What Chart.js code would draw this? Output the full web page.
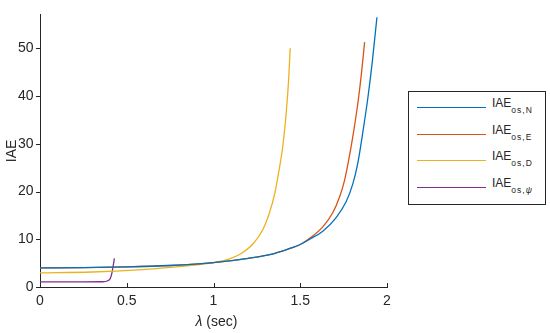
<!DOCTYPE html>
<html>
<head>
<meta charset="utf-8">
<script src="https://cdn.jsdelivr.net/npm/chart.js@4.4.1/dist/chart.umd.min.js"></script>
<style>
  html, body { margin: 0; padding: 0; background: #ffffff; }
  #wrap { position: relative; width: 550px; height: 333px; overflow: hidden; font-family: "Liberation Sans", Arial, sans-serif; color: #262626; }
  #c { position: absolute; left: 0; top: 0; }
  #xtitle { position: absolute; left: 0; width: 433px; top: 312px; text-align: center; font-size: 14px; line-height: 18px; }
  #legend { position: absolute; left: 408px; top: 91px; width: 136px; height: 112px; border: 1px solid #262626; background: #fff; }
  .item { position: absolute; left: 0; height: 20px; width: 136px; }
  .item .ln { position: absolute; left: 8px; width: 69px; top: 9px; height: 0; border-top: 1.3px solid #000; }
  .item .tx { position: absolute; left: 83px; top: -1px; font-size: 12px; line-height: 13px; white-space: nowrap; }
  .item .tx sub { font-size: 8.5px; letter-spacing: 1px; vertical-align: -6px; line-height: 0; }
</style>
</head>
<body>
<div id="wrap">
  <canvas id="c" width="550" height="333"></canvas>
  <div id="xtitle"><i>λ</i> (sec)</div>
  <div id="legend"></div>
</div>
<script>
// ---- data ----
const seriesNames = ["os,N", "os,E", "os,D", "os,ψ"];
const seriesColors = ["#0072BD", "#D95319", "#EDB120", "#7E2F8E"];

const lambdaN = [0, 0.25, 0.5, 0.75, 1.0, 1.2, 1.35, 1.45, 1.5, 1.554, 1.63, 1.708, 1.765, 1.803, 1.832, 1.861, 1.89, 1.915, 1.942];
const iaeN    = [4.0, 4.05, 4.2, 4.5, 5.1, 6.0, 7.0, 8.2, 8.9, 10.0, 11.7, 14.6, 17.9, 21.6, 26.0, 32.5, 39.7, 47.1, 56.5];

const lambdaE = [0, 0.25, 0.5, 0.75, 1.0, 1.2, 1.35, 1.45, 1.5, 1.554, 1.63, 1.688, 1.727, 1.755, 1.775, 1.803, 1.832, 1.852, 1.871];
const iaeE    = [4.0, 4.05, 4.2, 4.5, 5.1, 6.0, 7.0, 8.2, 8.9, 10.2, 12.6, 15.6, 18.9, 22.3, 25.8, 31.5, 38.5, 44.5, 51.3];

const lambdaD = [0, 0.3, 0.57, 0.75, 0.92, 1.0, 1.092, 1.15, 1.227, 1.284, 1.323, 1.352, 1.377, 1.40, 1.419, 1.434, 1.442];
const iaeD    = [2.94, 3.14, 3.6, 4.1, 4.7, 5.1, 5.9, 6.8, 9.0, 12.0, 15.6, 19.4, 24.3, 29.7, 36.5, 44.0, 50.0];

const lambdaPsi = [0, 0.2, 0.36, 0.39, 0.405, 0.415, 0.422, 0.429];
const iaePsi    = [1.07, 1.07, 1.1, 1.3, 1.8, 3.0, 4.5, 6.0];

const xTicks = [0, 0.5, 1, 1.5, 2];
const yTicks = [0, 10, 20, 30, 40, 50];
const xMax = 2, yMax = 57;

// ---- build datasets ----
function pts(xs, ys) { return xs.map((x, i) => ({ x: x, y: ys[i] })); }
const allX = [lambdaN, lambdaE, lambdaD, lambdaPsi];
const allY = [iaeN, iaeE, iaeD, iaePsi];
const datasets = seriesNames.map((n, i) => ({
  label: "IAE " + n,
  data: pts(allX[i], allY[i]),
  borderColor: seriesColors[i],
  backgroundColor: seriesColors[i],
  borderWidth: 1.3,
  pointRadius: 0,
  fill: false,
  cubicInterpolationMode: "monotone"
}));

// HTML legend with subscripts
const leg = document.getElementById("legend");
seriesNames.forEach((n, i) => {
  const d = document.createElement("div");
  d.className = "item";
  d.style.top = (6 + i * 26.7) + "px";
  const sub = n.replace("ψ", "<i>ψ</i>");
  d.innerHTML = '<div class="ln" style="border-top-color:' + seriesColors[i] + '"></div>' +
                '<div class="tx">IAE<sub>' + sub + '</sub></div>';
  leg.appendChild(d);
});

// tick marks: x ticks point into the plot, y ticks point outward
const tickMarks = {
  id: "tickMarks",
  afterDatasetsDraw(chart) {
    const ctx = chart.ctx, xs = chart.scales.x, ys = chart.scales.y, a = chart.chartArea;
    ctx.save();
    ctx.strokeStyle = "#262626";
    ctx.lineWidth = 1;
    ctx.beginPath();
    xTicks.forEach(v => { const p = Math.round(xs.getPixelForValue(v)) + 0.5; ctx.moveTo(p, a.bottom); ctx.lineTo(p, a.bottom - 4); });
    yTicks.forEach(v => { const p = Math.round(ys.getPixelForValue(v)) + 0.5; ctx.moveTo(a.left, p); ctx.lineTo(a.left - 4, p); });
    ctx.stroke();
    ctx.restore();
  }
};

Chart.defaults.font.family = '"Liberation Sans", Arial, sans-serif';
Chart.defaults.color = "#262626";

new Chart(document.getElementById("c"), {
  type: "line",
  data: { datasets: datasets },
  options: {
    responsive: false,
    animation: false,
    devicePixelRatio: 1,
    layout: { padding: { top: 5, right: 163, left: 0, bottom: 0 } },
    plugins: { legend: { display: false }, tooltip: { enabled: false } },
    scales: {
      x: {
        type: "linear", min: 0, max: xMax,
        afterBuildTicks: s => { s.ticks = xTicks.map(v => ({ value: v })); },
        afterFit: s => { s.height = 46; },
        grid: { display: false, drawTicks: false },
        border: { display: true, color: "#262626", width: 1 },
        ticks: { font: { size: 14 }, color: "#262626", padding: 6, maxRotation: 0,
                 callback: v => String(v) }
      },
      y: {
        type: "linear", min: 0, max: yMax,
        afterBuildTicks: s => { s.ticks = yTicks.map(v => ({ value: v })); },
        afterFit: s => { s.width = 40; },
        grid: { display: false, drawTicks: false },
        border: { display: true, color: "#262626", width: 1 },
        ticks: { font: { size: 14 }, color: "#262626", padding: 6.5, callback: v => String(v) },
        title: { display: true, text: "IAE", font: { size: 14 }, color: "#262626", padding: { top: 3.5, bottom: 0 } }
      }
    }
  },
  plugins: [tickMarks]
});
</script>
</body>
</html>
